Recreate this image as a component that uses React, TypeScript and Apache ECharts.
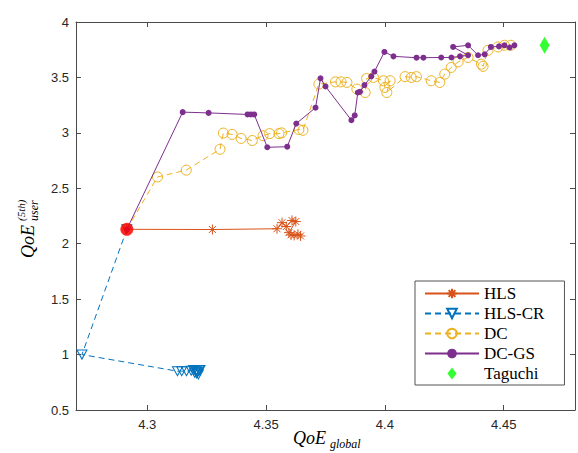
import React, { useEffect, useRef } from "react";
import * as echarts from "echarts";

// ---- data ----
const START: [number, number] = [4.2914, 2.13];

const HLS_X = [4.2914, 4.3274, 4.3546, 4.3567, 4.3585, 4.3609, 4.3625, 4.3596, 4.3605, 4.3618, 4.3634, 4.3645];
const HLS_Y = [2.13, 2.128, 2.135, 2.19, 2.155, 2.21, 2.2, 2.1, 2.08, 2.075, 2.085, 2.07];

const HLSCR_X = [4.2914, 4.2725, 4.3127, 4.3145, 4.3165, 4.3185, 4.3195, 4.3205, 4.3212, 4.3218, 4.3222, 4.3208, 4.3215, 4.3200, 4.3210];
const HLSCR_Y = [2.13, 1.0, 0.85, 0.85, 0.85, 0.855, 0.86, 0.85, 0.84, 0.855, 0.86, 0.83, 0.82, 0.835, 0.845];

const DC_X = [4.2914, 4.3043, 4.3164, 4.3306, 4.332, 4.3357, 4.3395, 4.3442, 4.3487, 4.3515, 4.3554, 4.3565, 4.3638, 4.3655, 4.3722, 4.3792, 4.3815, 4.384, 4.3882, 4.3917, 4.3923, 4.3952, 4.3994, 4.4, 4.4022, 4.4008, 4.4085, 4.4111, 4.4133, 4.4195, 4.4231, 4.4252, 4.4279, 4.4308, 4.435, 4.4406, 4.4413, 4.4434, 4.4476, 4.4503, 4.453];
const DC_Y = [2.13, 2.602, 2.664, 2.852, 2.998, 2.986, 2.95, 2.931, 2.974, 2.993, 2.993, 3.0, 3.03, 3.023, 3.44, 3.46, 3.46, 3.455, 3.395, 3.364, 3.49, 3.5, 3.47, 3.41, 3.47, 3.364, 3.507, 3.5, 3.507, 3.47, 3.455, 3.53, 3.59, 3.64, 3.68, 3.62, 3.6, 3.745, 3.775, 3.79, 3.79];

const DCGS_X = [4.2914, 4.3149, 4.3258, 4.3422, 4.3436, 4.345, 4.3505, 4.3589, 4.3627, 4.3708, 4.3729, 4.375, 4.3859, 4.3873, 4.3886, 4.3895, 4.3914, 4.3943, 4.3956, 4.3998, 4.4036, 4.4133, 4.4162, 4.4237, 4.428, 4.4316, 4.435, 4.4287, 4.435, 4.4392, 4.442, 4.4446, 4.448, 4.4503, 4.4525, 4.4545];
const DCGS_Y = [2.13, 3.187, 3.18, 3.166, 3.166, 3.166, 2.87, 2.875, 3.084, 3.227, 3.492, 3.419, 3.114, 3.157, 3.364, 3.37, 3.431, 3.51, 3.553, 3.73, 3.69, 3.678, 3.678, 3.68, 3.68, 3.69, 3.7, 3.775, 3.79, 3.7, 3.708, 3.775, 3.78, 3.79, 3.77, 3.79];

const TAGUCHI: [number, number] = [4.4672, 3.79];

const X_TICKS = [4.3, 4.35, 4.4, 4.45];
const X_MIN = 4.27;
const X_MAX = 4.48;
const Y_MIN = 0.5;
const Y_MAX = 4;
const Y_STEP = 0.5;

const LEGEND_NAMES = ["HLS", "HLS-CR", "DC", "DC-GS", "Taguchi"];

const zip = (xs: number[], ys: number[]) => xs.map((x, i) => [x, ys[i]]);

const AXIS_COLOR = "#4a4a4a";
const LABEL_COLOR = "#262626";
const SERIF = "Liberation Serif";
const SANS = "Liberation Sans";

const ASTERISK = "path://M0,-5L0,5M-5,0L5,0M-3.5,-3.5L3.5,3.5M-3.5,3.5L3.5,-3.5";
const DOWN_TRI = "path://M-6,0L6,0L0,10Z";
const DIAMOND = "path://M0,-8.5L6.5,0L0,8.5L-6.5,0Z";

export default function App() {
  const ref = useRef<HTMLDivElement>(null);
  useEffect(() => {
    document.body.style.margin = "0";
    if (!ref.current) return;
    const chart = echarts.init(ref.current, undefined, { renderer: "svg" });

    const xCommon = {
      type: "value",
      min: X_MIN,
      max: X_MAX,
      splitLine: { show: false },
      axisLine: { show: true, onZero: false, lineStyle: { color: AXIS_COLOR, width: 1 } },
      axisTick: { show: true, inside: true, length: 5, customValues: X_TICKS, lineStyle: { color: AXIS_COLOR } },
    };
    const yCommon = {
      type: "value",
      min: Y_MIN,
      max: Y_MAX,
      interval: Y_STEP,
      splitLine: { show: false },
      axisLine: { show: true, onZero: false, lineStyle: { color: AXIS_COLOR, width: 1 } },
      axisTick: { show: true, inside: true, length: 5, lineStyle: { color: AXIS_COLOR } },
    };

    const option: any = {
      animation: false,
      backgroundColor: "#fff",
      textStyle: { fontFamily: SANS },
      grid: { left: 76, right: 3, top: 22, bottom: 43 },
      xAxis: [
        {
          ...xCommon,
          position: "bottom",
          axisLabel: { customValues: X_TICKS, color: LABEL_COLOR, fontSize: 13, fontFamily: SANS, margin: 8 },
        },
        { ...xCommon, position: "top", axisLabel: { show: false } },
      ],
      yAxis: [
        {
          ...yCommon,
          position: "left",
          axisLabel: { color: LABEL_COLOR, fontSize: 13, fontFamily: SANS, margin: 7 },
        },
        { ...yCommon, position: "right", axisLabel: { show: false } },
      ],
      legend: {
        orient: "vertical",
        left: 415,
        top: 281,
        data: LEGEND_NAMES,
        formatter: "{s|{name}}",
        backgroundColor: "#fff",
        borderColor: "#555",
        borderWidth: 1,
        borderRadius: 0,
        padding: [4, 20, 3, 9],
        itemWidth: 54,
        itemHeight: 12,
        itemGap: 3,
        textStyle: {
          fontFamily: SERIF,
          fontSize: 17,
          color: "#000",
          rich: { s: { fontFamily: SERIF, fontSize: 17, color: "#000", fontWeight: "normal" } },
        },
      },
      series: [
        {
          name: "HLS",
          type: "line",
          data: zip(HLS_X, HLS_Y),
          symbol: ASTERISK,
          symbolSize: 10,
          lineStyle: { color: "#D95319", width: 1 },
          itemStyle: { color: "#D95319", borderColor: "#D95319", borderWidth: 1 },
          z: 3,
        },
        {
          name: "HLS-CR",
          type: "line",
          data: zip(HLSCR_X, HLSCR_Y),
          symbol: DOWN_TRI,
          symbolSize: [10, 9],
          lineStyle: { color: "#0072BD", width: 1, type: [6, 4] },
          itemStyle: { color: "rgba(255,255,255,0)", borderColor: "#0072BD", borderWidth: 1 },
          z: 3,
        },
        {
          name: "DC",
          type: "line",
          data: zip(DC_X, DC_Y),
          symbol: "circle",
          symbolSize: 10,
          lineStyle: { color: "#EDB120", width: 1, type: [6, 4] },
          itemStyle: { color: "rgba(255,255,255,0)", borderColor: "#EDB120", borderWidth: 1 },
          z: 3,
        },
        {
          name: "DC-GS",
          type: "line",
          data: zip(DCGS_X, DCGS_Y),
          symbol: "circle",
          symbolSize: 6,
          lineStyle: { color: "#7E2F8E", width: 1 },
          itemStyle: { color: "#7E2F8E", borderColor: "#7E2F8E", borderWidth: 0 },
          z: 4,
        },
        {
          name: "Taguchi",
          type: "scatter",
          data: [TAGUCHI],
          symbol: DIAMOND,
          symbolKeepAspect: true,
          symbolSize: [13, 17],
          itemStyle: { color: "#00FF00" },
          z: 5,
        },
        {
          name: "start",
          type: "scatter",
          data: [START],
          symbol: "circle",
          symbolSize: 13,
          itemStyle: { color: "#FF0000" },
          z: 6,
        },
      ],
      graphic: [
        {
          type: "group",
          x: 293,
          y: 447,
          children: [
            { type: "text", x: 0, y: 0, style: { text: "QoE", fontFamily: SERIF, fontStyle: "italic", fontSize: 18, fill: "#000", verticalAlign: "bottom", align: "left" } },
            { type: "text", x: 37, y: 3, style: { text: "global", fontFamily: SERIF, fontStyle: "italic", fontSize: 12, fill: "#000", verticalAlign: "bottom", align: "left" } },
          ],
        },
        {
          type: "group",
          x: 37,
          y: 258,
          rotation: Math.PI / 2,
          children: [
            { type: "text", x: 0, y: 0, style: { text: "QoE", fontFamily: SERIF, fontStyle: "italic", fontSize: 18, fill: "#000", verticalAlign: "bottom", align: "left" } },
            { type: "text", x: 37, y: 3, style: { text: "user", fontFamily: SERIF, fontStyle: "italic", fontSize: 12, fill: "#000", verticalAlign: "bottom", align: "left" } },
            { type: "text", x: 37, y: -11, style: { text: "(5th)", fontFamily: SERIF, fontStyle: "italic", fontSize: 11, fill: "#000", verticalAlign: "bottom", align: "left" } },
          ],
        },
      ],
    };
    chart.setOption(option);
    return () => chart.dispose();
  }, []);
  return <div ref={ref} style={{ width: 578, height: 453 }} />;
}
